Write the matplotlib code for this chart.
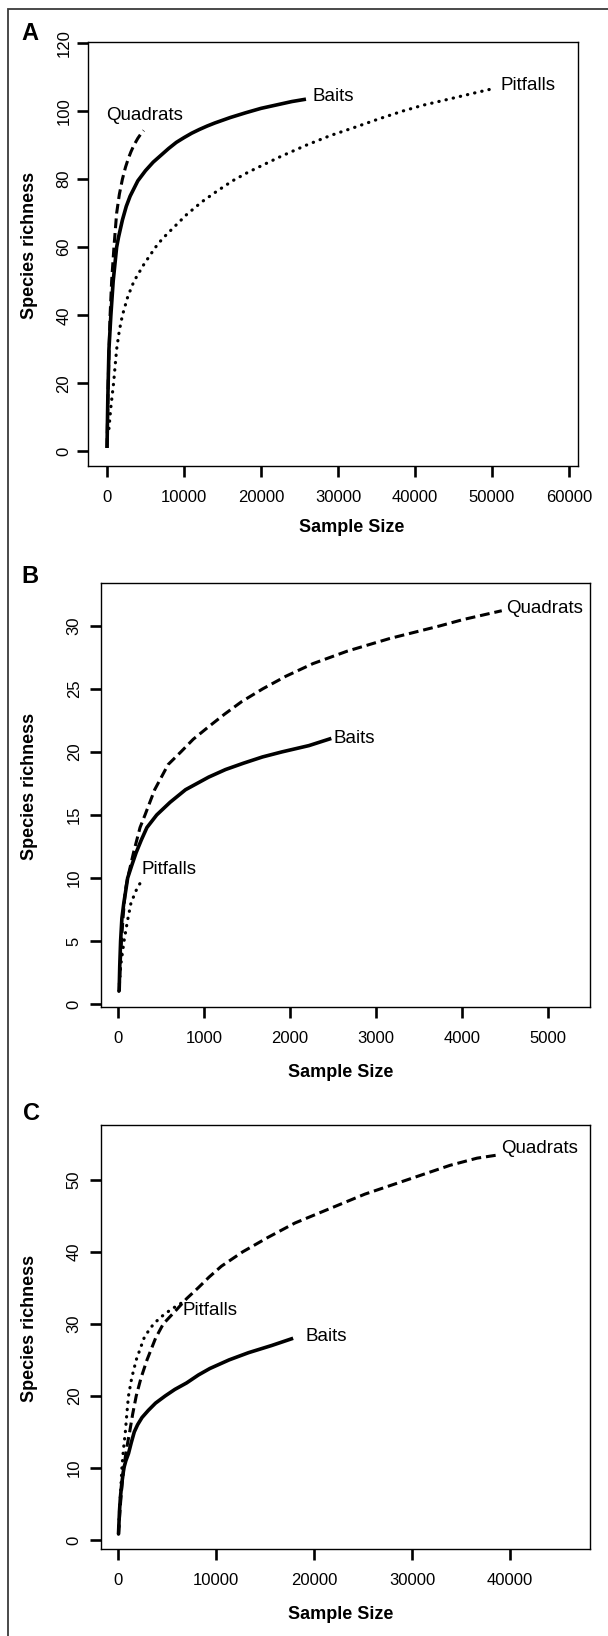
import numpy as np
import matplotlib
matplotlib.use("Agg")
import matplotlib.pyplot as plt
from matplotlib.patches import Rectangle

plt.rcParams['font.family'] = ['Liberation Sans', 'DejaVu Sans']

# Panel A (rarefaction curves)
a_baits_x = [0, 100, 250, 500, 800, 1250, 1500, 2000, 2500, 3000, 4000, 5000, 6000, 7000, 8000, 9000, 10000,
             11000, 12000, 13000, 14000, 16000, 18000, 20000, 22000, 24000, 25840]
a_baits_y = [1, 15, 30, 40, 50, 60, 63, 68, 72, 75, 79.5, 82.5, 85, 87, 89, 90.8, 92.2,
             93.5, 94.6, 95.6, 96.5, 98.1, 99.5, 100.8, 101.8, 102.8, 103.5]
a_quad_x = [0, 150, 400, 600, 900, 1250, 1600, 2000, 2400, 2760, 3100, 3500, 4000, 4400, 4770]
a_quad_y = [1, 20, 40, 50, 60, 70, 75.5, 80, 83.5, 86, 88, 90, 92, 93.3, 94.3]
a_pit_x = [250, 500, 850, 1250, 1600, 2000, 2700, 3500, 4800, 6300, 7200, 8300, 10300, 12300, 14300, 16300,
           18300, 20300, 22500, 25900, 29000, 32400, 35300, 38400, 41000, 44000, 47500, 50520]
a_pit_y = [6.7, 13, 20, 30, 35.5, 40, 45.5, 50, 55, 60, 62.5, 65, 69.5, 73.3, 76.5, 79.5,
           82, 84.2, 86.6, 90, 92.8, 95.4, 97.7, 100, 101.7, 103.3, 105.2, 106.8]

# Panel B
b_baits_x = [13, 20, 30, 45, 67, 90, 112, 160, 210, 270, 336, 450, 605, 785, 1054, 1250, 1457, 1680, 1906, 2220, 2480]
b_baits_y = [1, 3, 5, 6.8, 8, 9, 10, 11, 12, 13, 14, 15, 16, 17, 18, 18.6, 19.1, 19.6, 20, 20.5, 21.07]
b_quad_x = [13, 25, 40, 60, 85, 112, 180, 256, 314, 426, 583, 731, 874, 1054, 1240, 1440, 1682, 1951, 2265,
            2668, 3161, 3744, 4013, 4462]
b_quad_y = [1, 3, 5, 7, 9, 10, 12, 14, 15, 17, 19, 20, 21, 22, 23, 24, 25, 26, 27, 28, 29, 30, 30.5, 31.2]
b_pit_x = [10, 30, 70, 110, 150, 180, 210, 250, 283]
b_pit_y = [1, 3, 5, 6.6, 8, 8.5, 9, 9.5, 9.9]

# Panel C
c_baits_x = [50, 150, 250, 400, 600, 800, 1070, 1350, 1660, 2000, 2450, 3100, 3830, 4820, 5800, 7000, 8200,
             9370, 11340, 13320, 15690, 17870]
c_baits_y = [0.8, 4, 6, 8, 10, 11, 12, 13.5, 15, 16, 17, 18, 19, 20, 20.9, 21.8, 22.9, 23.8, 25, 26, 27, 28]
c_quad_x = [50, 150, 250, 400, 590, 850, 1190, 1500, 1860, 2350, 2960, 3830, 4620, 6000, 7000, 8180, 9300,
            10550, 12730, 15300, 18060, 21620, 25180, 29530, 33870, 36640, 38810]
c_quad_y = [0.8, 3, 5, 7.5, 10, 12.5, 15, 17.5, 20, 22.5, 25, 28, 30, 32, 33.5, 35, 36.5,
            38, 40, 42, 44, 46, 48, 50, 52, 53, 53.45]
c_pit_x = [50, 120, 200, 300, 400, 550, 750, 900, 1070, 1400, 1860, 2650, 3100, 3640, 4430, 5410, 6600]
c_pit_y = [0.8, 3, 5, 7.5, 10, 12.5, 15, 17.5, 20, 22.5, 25, 28, 29, 30, 31, 32, 33]

a_xticks = [0, 10000, 20000, 30000, 40000, 50000, 60000]
a_yticks = [0, 20, 40, 60, 80, 100, 120]
b_xticks = [0, 1000, 2000, 3000, 4000, 5000]
b_yticks = [0, 5, 10, 15, 20, 25, 30]
c_xticks = [0, 10000, 20000, 30000, 40000]
c_yticks = [0, 10, 20, 30, 40, 50]

W, H = 608, 1636
fig = plt.figure(figsize=(W / 100, H / 100), dpi=100)

# outer frame, clipped at right and bottom
fig.patches.append(Rectangle((8 / W, -0.1), 1.2, 1 - 9 / H + 0.1, transform=fig.transFigure,
                             fill=False, edgecolor='#3a3a3a', linewidth=1.3))


def panel(box, xlim, ylim, xticks, yticks, curves, labels, ypad, xlab_pos, ylab_x):
    left, top, right, bottom = box
    ax = fig.add_axes([left / W, 1 - bottom / H, (right - left) / W, (bottom - top) / H])
    for xs, ys, style in curves:
        if style == 'solid':
            ax.plot(xs, ys, color='black', lw=2.6, solid_capstyle='butt', solid_joinstyle='round')
        elif style == 'dashed':
            ax.plot(xs, ys, color='black', lw=2.2, linestyle=(0, (3.2, 1.6)))
        else:
            ax.plot(xs, ys, color='black', lw=2.3, linestyle=(0, (0.1, 2.2)), dash_capstyle='round')
    for txt, x, y, ha in labels:
        ax.text(x, y, txt, ha=ha, va='center', fontsize=13.5)
    ax.set_xlim(xlim)
    ax.set_ylim(ylim)
    ax.set_xticks(xticks, [str(t) for t in xticks])
    ax.set_yticks(yticks, [str(t) for t in yticks], rotation=90, va='center')
    ax.tick_params(axis='both', length=7.9, width=1.9, labelsize=12, color='black')
    ax.tick_params(axis='x', pad=9.5)
    ax.tick_params(axis='y', pad=ypad)
    for s in ax.spines.values():
        s.set_linewidth(1.0)
    ax.set_xlabel('Sample Size', fontsize=13, fontweight='bold')
    ax.set_ylabel('Species richness', fontsize=13, fontweight='bold')
    ax.xaxis.set_label_coords(*xlab_pos)
    ax.yaxis.set_label_coords(ylab_x, 0.52)
    return ax


panel((88, 42, 578, 466), (-2470, 61170), (-4.3, 120.3), a_xticks, a_yticks,
      [(a_pit_x, a_pit_y, 'dotted'), (a_quad_x, a_quad_y, 'dashed'), (a_baits_x, a_baits_y, 'solid')],
      [('Quadrats', 4935, 98.7, 'center'), ('Baits', 26750, 104.4, 'left'), ('Pitfalls', 51040, 107.6, 'left')],
      4.0, (0.539, -0.124), -0.102)

panel((101, 583, 590, 1007), (-198, 5488), (-0.24, 33.4), b_xticks, b_yticks,
      [(b_pit_x, b_pit_y, 'dotted'), (b_quad_x, b_quad_y, 'dashed'), (b_baits_x, b_baits_y, 'solid')],
      [('Quadrats', 4512, 31.4, 'left'), ('Baits', 2500, 21.05, 'left'), ('Pitfalls', 273, 10.7, 'left')],
      6.0, (0.491, -0.134), -0.129)

panel((101, 1125, 590, 1549), (-1735, 48160), (-1.25, 57.6), c_xticks, c_yticks,
      [(c_pit_x, c_pit_y, 'dotted'), (c_quad_x, c_quad_y, 'dashed'), (c_baits_x, c_baits_y, 'solid')],
      [('Quadrats', 39080, 54.3, 'left'), ('Baits', 19100, 28.3, 'left'), ('Pitfalls', 6630, 31.8, 'left')],
      6.0, (0.491, -0.134), -0.129)

for letter, px, py in [('A', 29.5, 33.5), ('B', 30, 576.5), ('C', 31, 1114)]:
    fig.text(px / W, 1 - py / H, letter, ha='center', va='center', fontsize=17, fontweight='bold')

fig.savefig('out.png', dpi=100)
